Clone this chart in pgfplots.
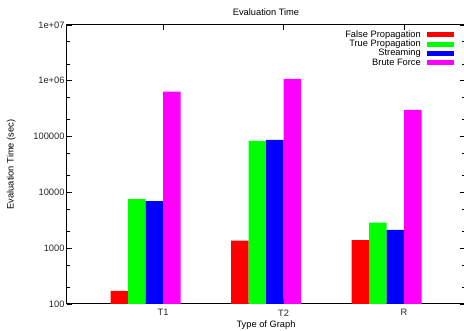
\documentclass[border=0pt]{standalone}
\usepackage{pgfplots}
\pgfplotsset{compat=1.18}
\usepackage{fontspec}
\setmainfont{Liberation Sans}
\definecolor{cRed}{RGB}{255,0,0}
\definecolor{cGreen}{RGB}{0,255,0}
\definecolor{cBlue}{RGB}{0,0,255}
\definecolor{cMag}{RGB}{255,0,255}
\begin{document}
\begin{tikzpicture}
\begin{axis}[
  at={(0pt,0pt)}, anchor=south west,
  scale only axis, width=398pt, height=279pt,
  ymode=log, ymin=100, ymax=1e7,
  xmin=-0.797, xmax=2.506,
  xtick={0,1,2}, xticklabels={T1,T2,R},
  ytick={100,1000,10000,100000,1000000,10000000},
  yticklabels={100,1000,10000,100000,1e+06,1e+07},
  minor ytick={200,500,2000,5000,20000,50000,200000,500000,2000000,5000000},
  tick align=inside,
  major tick length=5pt, minor tick length=3pt,
  every tick/.style={black, line width=0.8pt},
  axis line style={line width=1pt, black},
  tick label style={font=\fontsize{9.3}{10}\selectfont, black!85},
  yticklabel style={xshift=1pt},
  xticklabel style={yshift=-2pt},
  title={Evaluation Time},
  title style={font=\fontsize{9.3}{10}\selectfont, yshift=0pt},
  xlabel={Type of Graph},
  xlabel style={font=\fontsize{9.3}{10}\selectfont, yshift=2pt},
  ylabel={Evaluation Time (sec)},
  ylabel style={font=\fontsize{9.3}{10}\selectfont, yshift=11pt},
  legend cell align=right,
  legend plot pos=right,
  legend image code/.code={\fill[#1] (0pt,-2.5pt) rectangle (27pt,2.5pt);},
  legend style={draw=none, fill=none, at={(rel axis cs:1,1)}, anchor=north east,
    xshift=-11pt, yshift=-5.5pt, inner sep=0pt, row sep=0.8pt, column sep=6pt,
    font=\fontsize{9.3}{10}\selectfont,
    nodes={inner sep=0pt, text height=6.5pt, text depth=2pt}},
]
\addplot[ybar, bar width=17.5pt, bar shift=-43.75pt, fill=cRed, draw=none]
  coordinates {(0,171) (1,1360) (2,1400)};
\addlegendentry{False Propagation}
\addplot[ybar, bar width=17.5pt, bar shift=-26.25pt, fill=cGreen, draw=none]
  coordinates {(0,7600) (1,83400) (2,2860)};
\addlegendentry{True Propagation}
\addplot[ybar, bar width=17.5pt, bar shift=-8.75pt, fill=cBlue, draw=none]
  coordinates {(0,7000) (1,86900) (2,2120)};
\addlegendentry{Streaming}
\addplot[ybar, bar width=17.5pt, bar shift=8.75pt, fill=cMag, draw=none]
  coordinates {(0,640000) (1,1080000) (2,300000)};
\addlegendentry{Brute Force}
\end{axis}
\pgfresetboundingbox
\useasboundingbox (-67pt,-27pt) rectangle (397pt,304pt);
\end{tikzpicture}
\end{document}
